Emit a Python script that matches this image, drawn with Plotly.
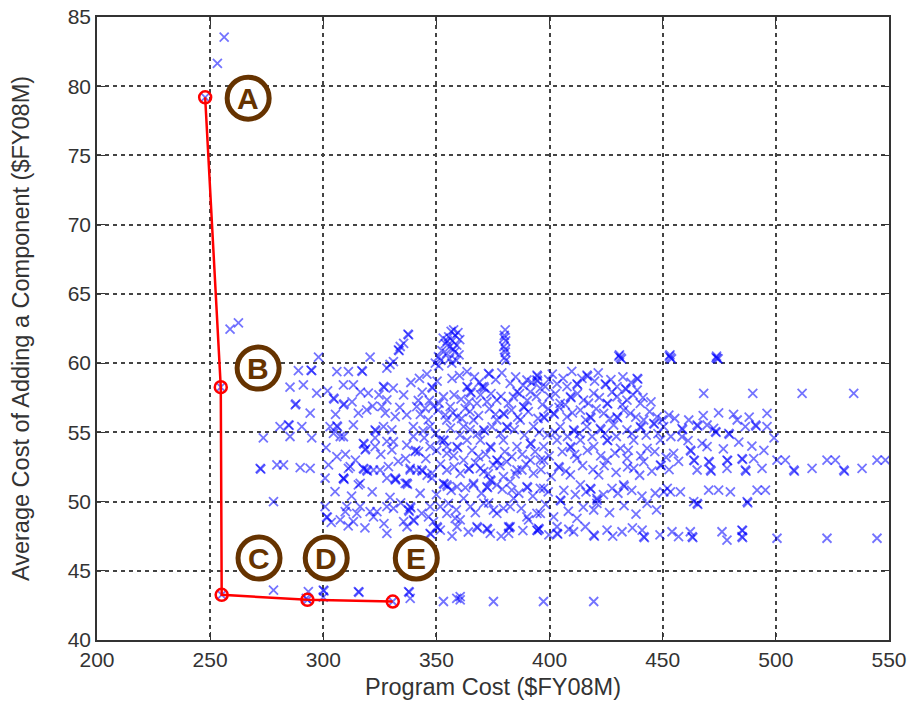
import plotly.graph_objects as go

# ---------------- data ----------------
x_ticks = [200, 250, 300, 350, 400, 450, 500, 550]
y_ticks = [40, 45, 50, 55, 60, 65, 70, 75, 80, 85]

pareto_labels = ["A", "B", "C", "D", "E"]
pareto_cost = [247.8, 254.7, 255.1, 293.0, 330.7]
pareto_avg = [79.2, 58.26, 43.26, 42.9, 42.78]

label_cost = [266.8, 271.2, 271.6, 301.3, 341.1]
label_avg = [79.14, 59.64, 45.92, 45.92, 45.92]

outlier_points = [(253.2, 81.65), (256.2, 83.55), (262.5, 62.9), (258.8, 62.45),
                  (247.8, 79.2), (254.7, 58.26), (255.1, 43.26), (293.0, 42.9),
                  (292.5, 43.0), (330.7, 42.78)]

left_points = [
    (297.9, 60.43), (289.0, 59.46), (294.9, 59.46), (294.6, 59.5), (285.3, 58.26), (291.2, 58.43),
    (297.1, 57.83), (287.6, 56.98), (287.9, 57.05), (294.2, 56.38), (280.9, 55.42), (284.6, 55.54),
    (284.9, 55.5), (290.5, 55.42), (273.5, 54.6), (285.3, 54.7), (294.9, 54.6),
    (304.5, 57.47), (304.8, 57.4), (306.0, 59.39), (311.1, 59.39), (317.0, 59.46), (317.3, 59.4),
    (320.7, 60.43), (308.9, 58.43), (313.3, 58.43), (308.9, 56.98), (309.2, 57.05), (319.9, 57.83),
    (315.5, 56.38), (319.2, 56.62), (303.0, 55.42), (306.0, 55.47), (306.3, 55.4), (313.3, 55.54),
    (307.5, 54.7), (322.9, 55.18), (323.2, 55.1), (318.5, 53.73), (318.8, 53.8),
    (326.6, 58.31), (326.9, 58.25), (328.1, 57.35), (325.9, 56.86), (327.4, 56.38), (331.8, 56.14),
    (335.5, 57.71), (330.3, 55.18), (336.9, 56.26), (341.3, 56.86), (345.0, 56.74), (348.0, 58.26),
    (348.3, 58.2), (348.7, 56.86), (339.8, 55.42), (347.2, 55.42), (326.6, 55.42), (322.9, 54.6),
    (328.1, 54.35), (339.8, 54.7), (340.6, 53.62), (340.9, 53.7), (330.3, 53.73), (353.9, 56.26),
    (351.7, 54.45), (354.6, 53.97),
    (328.1, 59.63), (331.0, 60.11), (333.2, 60.95), (333.5, 60.9), (335.5, 61.43), (337.7, 62.04),
    (337.4, 62.1), (334.0, 61.2), (329.5, 59.9),
    (301.9, 58.0), (305.4, 56.3), (312.7, 57.2), (316.4, 57.9), (321.8, 56.9), (324.6, 57.7),
    (330.9, 58.2), (333.8, 56.8), (338.7, 58.6), (342.0, 57.3),
    (301.2, 53.9), (309.8, 53.4), (314.2, 53.0), (325.4, 53.4), (333.1, 52.9), (336.4, 53.1),
    (344.6, 54.6), (312.5, 50.4), (321.6, 50.7), (329.5, 50.3), (342.8, 50.6), (334.2, 49.9),
    (326.8, 48.4), (318.4, 48.1),
]

top_points = [
    (349.5, 60.0), (350.9, 60.46), (352.4, 60.9), (353.9, 61.4), (355.4, 61.9), (357.6, 62.4),
    (354.5, 60.7), (356.0, 61.2), (357.0, 61.6), (358.3, 62.0), (359.0, 61.3), (360.0, 60.6),
    (358.0, 60.8), (355.8, 60.3), (352.0, 60.2), (357.5, 61.0), (359.5, 62.2), (356.5, 62.3),
    (360.3, 61.7), (353.0, 61.8), (351.0, 59.8), (358.8, 60.2), (354.8, 61.6), (356.8, 60.0),
    (380.4, 62.4), (380.0, 62.0), (380.6, 61.6), (379.8, 61.2), (380.4, 60.8), (380.1, 60.4),
    (380.7, 60.2), (379.9, 61.8), (380.5, 61.0),
    (430.6, 60.5), (431.3, 60.4), (431.8, 60.3), (430.9, 60.6), (452.9, 60.5), (453.4, 60.4),
    (453.9, 60.3), (453.2, 60.6), (473.6, 60.4), (474.0, 60.34), (474.5, 60.3), (473.8, 60.5),
    (468.1, 57.82), (489.8, 57.82), (511.6, 57.82), (534.4, 57.82),
]

right_points = [
    (496.1, 56.37), (474.7, 56.41), (458.5, 55.29), (458.8, 55.2), (461.5, 55.89), (465.2, 55.53),
    (465.5, 55.45), (469.6, 55.53), (472.5, 55.29), (473.3, 55.05), (473.6, 55.0), (479.2, 54.93),
    (479.5, 54.85), (482.9, 55.89), (486.5, 55.41), (491.0, 55.53), (491.3, 55.45), (496.1, 55.41),
    (469.6, 53.96), (462.2, 53.72), (462.5, 53.65), (458.5, 54.68),
    (461.2, 54.4), (467.4, 54.2), (476.8, 53.8), (483.6, 54.3), (489.4, 54.0), (494.7, 53.7),
    (499.2, 54.6), (467.9, 56.2), (481.3, 56.3), (488.2, 56.1),
    (457.0, 52.9), (463.7, 53.0), (464.0, 52.95), (465.2, 52.28), (470.3, 52.9), (470.6, 52.85),
    (471.1, 52.28), (471.4, 52.2), (478.4, 53.0), (478.7, 52.95), (478.4, 52.4), (485.0, 53.1),
    (485.3, 53.05), (486.5, 52.28), (486.8, 52.2), (490.2, 53.1), (493.9, 52.4), (500.5, 53.0),
    (504.2, 53.0), (507.9, 52.28), (508.2, 52.2), (516.0, 52.4), (522.6, 53.0), (526.3, 53.0),
    (530.0, 52.28), (530.3, 52.2), (538.1, 52.4), (544.7, 53.0), (548.4, 53.0),
    (457.8, 50.7), (470.3, 50.83), (474.7, 50.83), (479.9, 50.7), (491.7, 50.83), (495.4, 50.83),
    (465.2, 49.87), (465.5, 49.8), (487.3, 49.99), (487.6, 49.9), (463.7, 49.99),
    (457.0, 47.46), (462.2, 47.82), (463.0, 47.46), (463.3, 47.4), (476.2, 47.82), (478.4, 47.22),
    (485.0, 47.94), (485.3, 47.9), (485.0, 47.46), (485.3, 47.4), (500.5, 47.35), (522.6, 47.35),
    (544.7, 47.35),
]

lower_points = [
    (375.2, 49.39), (379.6, 49.51), (401.8, 48.9), (412.1, 48.79), (419.5, 49.39), (420.9, 49.87),
    (443.1, 49.87), (450.5, 50.7), (453.4, 50.7),
    (360.5, 48.67), (372.3, 48.07), (372.6, 48.0), (381.9, 48.18), (382.2, 48.1), (381.9, 47.7),
    (390.7, 48.67), (395.1, 48.07), (395.4, 48.0), (403.3, 47.7), (403.6, 47.65), (403.3, 48.18),
    (410.6, 47.82), (415.8, 48.18), (419.5, 47.58), (419.8, 47.5), (425.4, 47.94), (432.0, 47.82),
    (440.9, 47.94), (441.6, 47.46), (441.9, 47.4), (454.1, 47.82),
    (356.9, 47.5), (364.1, 47.8), (378.6, 47.5), (388.2, 47.9), (399.7, 47.6), (408.5, 48.0),
    (427.9, 47.5), (436.6, 48.1), (448.8, 47.6),
    (360.5, 42.9), (360.5, 43.13), (375.2, 42.78), (397.3, 42.78), (419.5, 42.78),
    (272.1, 52.4), (272.4, 52.35), (279.5, 52.65), (282.4, 52.65), (289.8, 52.45), (294.2, 52.4),
    (278.0, 50.0), (302.3, 52.65), (300.8, 51.69), (308.9, 51.69), (309.2, 51.6), (311.1, 52.4),
    (315.5, 51.2), (319.2, 52.28), (319.5, 52.2), (325.1, 52.28), (328.1, 51.69), (331.8, 51.69),
    (332.1, 51.6), (336.9, 51.33), (337.2, 51.25), (338.4, 52.28), (343.5, 52.28), (343.8, 52.2),
    (348.0, 51.69), (354.6, 51.2), (354.9, 51.1),
    (300.8, 49.63), (301.5, 48.9), (301.8, 48.85), (309.7, 49.27), (313.3, 48.55), (316.3, 49.63),
    (323.7, 49.27), (322.2, 48.9), (331.0, 49.51), (335.5, 48.55), (338.4, 49.63), (338.7, 49.55),
    (339.8, 48.67), (340.1, 48.6), (343.5, 49.15), (346.5, 48.9), (350.2, 48.18), (350.5, 48.1),
    (351.7, 49.63), (354.6, 49.15), (358.3, 48.79),
    (278.0, 43.6), (293.4, 43.5), (300.0, 43.6), (300.3, 43.55), (300.0, 43.1), (315.5, 43.5),
    (315.8, 43.45), (337.7, 43.5), (338.0, 43.45), (338.4, 43.0), (353.1, 42.78), (359.0, 43.0),
]

core_points = [
    (304.5, 54.93), (308.9, 54.68), (317.7, 54.2), (318.0, 54.15), (322.9, 53.96), (331.0, 54.32),
    (336.9, 54.08), (342.1, 53.6), (347.2, 53.96), (306.0, 53.24), (311.9, 52.52), (317.7, 52.4),
    (318.0, 52.35), (322.2, 52.28), (328.8, 52.52), (331.8, 51.56), (338.4, 52.4), (341.3, 52.28),
    (348.0, 52.04), (308.9, 51.68), (316.3, 51.32), (336.2, 51.32), (305.2, 50.71), (320.7, 49.27),
    (328.1, 49.63), (310.4, 49.63), (307.5, 48.67), (314.8, 49.15), (337.7, 49.39), (338.0, 49.3),
    (347.2, 49.63), (348.7, 48.55), (303.5, 48.5), (311.0, 48.25), (328.1, 47.7), (337.0, 48.18),
    (347.2, 47.7), (347.5, 47.65),
    (353.1, 57.57), (356.1, 56.85), (359.1, 56.12), (365.0, 57.93), (365.3, 57.85), (370.1, 58.29),
    (362.7, 56.73), (367.9, 57.09), (372.3, 57.21), (376.7, 57.33), (379.6, 56.37), (379.9, 56.3),
    (384.0, 57.57), (388.5, 56.85), (388.8, 56.8), (391.5, 57.93), (394.4, 58.78), (394.7, 58.7),
    (398.1, 58.3),
    (354.6, 55.89), (362.0, 55.41), (366.4, 55.89), (370.9, 55.17), (371.2, 55.1), (376.7, 55.89),
    (381.1, 55.41), (381.4, 55.35), (387.0, 55.89), (392.9, 55.41), (397.4, 56.12), (397.7, 56.05),
    (353.1, 54.44), (353.4, 54.4), (359.1, 53.96), (359.4, 53.9), (363.5, 54.44), (369.4, 54.44),
    (373.8, 53.96), (374.1, 53.9), (379.6, 54.44), (385.6, 53.96), (391.5, 54.2), (391.8, 54.15),
    (397.4, 53.96),
    (354.6, 53.48), (362.0, 53.0), (368.6, 53.24), (376.7, 53.0), (377.0, 52.95), (383.3, 53.24),
    (391.5, 53.0), (397.4, 53.0),
    (354.6, 52.28), (360.5, 52.04), (364.2, 52.4), (364.5, 52.35), (370.9, 52.16), (379.6, 51.8),
    (385.6, 52.28), (392.9, 52.04),
    (353.1, 51.32), (353.4, 51.25), (359.1, 51.07), (366.4, 51.32), (372.3, 51.07), (372.6, 51.0),
    (376.7, 51.2), (383.3, 50.83), (390.0, 51.07), (390.3, 51.0), (395.9, 50.95),
    (355.3, 49.87), (365.0, 49.63), (370.9, 49.87), (376.7, 49.15), (382.6, 49.63), (390.0, 48.9),
    (395.9, 49.15),
    (351.7, 47.94), (359.1, 48.18), (367.9, 48.18), (368.2, 48.1), (373.8, 47.7), (382.6, 48.18),
    (394.4, 47.94), (394.7, 47.9),
]

mid_points = [
    (363.5, 59.38), (363.5, 58.3), (363.8, 58.25), (370.9, 58.3), (371.2, 58.2), (373.0, 59.26),
    (373.3, 59.2), (382.6, 58.54), (385.6, 57.93), (390.0, 58.78), (395.9, 58.17), (394.4, 59.13),
    (394.7, 59.05), (403.3, 58.5), (407.7, 58.3), (412.1, 58.5), (412.4, 58.45), (416.5, 59.13),
    (416.8, 59.05), (424.6, 58.5), (424.9, 58.45), (429.8, 58.3), (433.5, 58.17), (433.8, 58.1),
    (438.7, 58.9), (439.0, 58.85), (438.7, 58.05),
    (404.7, 57.09), (409.2, 57.57), (409.5, 57.5), (415.0, 57.33), (419.5, 57.81), (425.4, 57.09),
    (425.7, 57.05), (429.8, 57.57), (434.2, 57.33), (440.1, 57.09),
    (401.8, 56.37), (402.1, 56.3), (407.7, 56.12), (413.6, 56.61), (418.0, 56.12), (418.3, 56.05),
    (423.9, 56.37), (429.8, 56.12), (430.1, 56.05), (435.7, 56.37), (441.6, 55.89), (447.5, 56.12),
    (452.7, 56.25),
    (404.7, 55.41), (410.6, 55.17), (410.9, 55.1), (416.5, 55.41), (422.4, 55.29), (422.7, 55.2),
    (428.3, 55.53), (434.2, 55.17), (440.1, 55.41), (440.4, 55.35), (446.0, 55.65), (446.3, 55.6),
    (450.4, 55.41),
    (403.3, 54.44), (409.2, 53.96), (409.5, 53.9), (413.6, 54.44), (419.5, 53.96), (425.4, 54.44),
    (425.7, 54.4), (431.3, 53.84), (437.2, 54.44), (443.1, 53.84), (449.0, 54.44), (454.8, 53.48),
    (369.4, 52.4), (375.2, 52.64), (373.8, 51.56), (374.1, 51.5), (366.4, 51.2), (382.6, 51.44),
    (387.8, 52.28), (397.4, 50.95), (404.0, 52.52), (404.3, 52.45), (409.2, 51.92), (413.6, 51.2),
    (418.0, 50.95), (418.3, 50.9), (421.7, 51.92), (427.6, 50.95), (432.7, 51.2), (433.0, 51.1),
    (437.2, 52.4), (441.6, 52.88), (449.0, 52.64), (449.3, 52.6), (452.0, 50.95), (381.1, 52.88),
    (395.9, 53.0), (412.1, 53.12), (425.4, 53.0), (434.2, 53.12), (362.0, 50.23), (394.4, 49.15),
    (420.9, 50.23), (384.1, 50.23), (404.7, 50.1), (405.0, 50.05), (421.0, 50.1),
]

dense_points = [
    (342.5, 58.9), (345.8, 59.2), (350.3, 58.7), (356.9, 58.9), (360.2, 59.1), (366.8, 59.0),
    (368.9, 58.6), (376.2, 58.8), (378.9, 59.3), (385.0, 59.0), (388.3, 58.4), (392.1, 58.6),
    (399.6, 58.8), (401.2, 59.2), (406.0, 58.9), (409.8, 59.4), (414.3, 58.9), (419.9, 58.7),
    (421.5, 59.3), (427.1, 58.8), (432.4, 59.0), (436.0, 58.6),
    (343.7, 57.9), (346.9, 57.3), (351.2, 57.1), (357.8, 57.7), (360.9, 57.4), (364.4, 57.2),
    (369.5, 57.7), (374.1, 57.8), (378.5, 57.6), (381.8, 57.1), (386.7, 57.8), (390.1, 57.3),
    (394.2, 57.6), (396.8, 57.0), (399.9, 57.6), (402.6, 57.8), (406.9, 57.0), (412.3, 57.8),
    (417.2, 57.1), (422.0, 57.5), (427.6, 57.9), (432.1, 57.0), (436.9, 57.7), (441.3, 57.5),
    (444.8, 57.2),
    (342.9, 56.3), (346.4, 55.9), (350.7, 56.6), (357.3, 56.4), (361.1, 56.0), (364.8, 56.5),
    (368.6, 56.2), (373.4, 56.7), (376.1, 56.3), (383.2, 56.6), (385.9, 56.1), (390.6, 56.5),
    (394.9, 56.0), (399.4, 56.7), (404.2, 56.8), (410.1, 56.4), (415.9, 55.9), (420.6, 56.7),
    (426.7, 56.0), (432.8, 56.6), (438.1, 56.1), (444.2, 56.5), (449.8, 55.9), (455.3, 56.0),
    (344.1, 55.1), (349.6, 54.9), (356.2, 55.3), (360.4, 54.8), (364.9, 55.2), (368.1, 54.9),
    (374.6, 55.4), (378.3, 54.9), (384.4, 55.2), (388.9, 54.8), (395.4, 55.0), (399.1, 54.8),
    (402.4, 55.0), (407.9, 54.7), (413.2, 54.9), (418.8, 54.7), (424.5, 54.9), (429.5, 54.7),
    (436.4, 54.9), (442.7, 54.8), (447.9, 54.9), (453.6, 54.7),
    (345.3, 53.1), (350.1, 53.7), (357.6, 53.3), (365.7, 53.7), (371.8, 53.4), (380.2, 53.6),
    (387.9, 53.4), (393.6, 53.6), (399.8, 53.3), (405.6, 53.6), (411.1, 53.4), (416.7, 53.7),
    (422.6, 53.3), (428.9, 53.5), (434.8, 53.7), (440.3, 53.3), (446.5, 53.6), (451.5, 53.2),
    (345.9, 51.9), (351.8, 52.7), (357.9, 52.5), (367.3, 52.8), (372.9, 52.0), (378.1, 52.6),
    (384.8, 52.0), (389.6, 52.7), (396.2, 52.3), (400.7, 51.8), (407.2, 52.2), (414.6, 52.6),
    (419.2, 52.3), (424.1, 52.6), (429.4, 52.1), (434.5, 52.5), (439.8, 51.9), (445.2, 52.2),
    (452.8, 52.3),
    (350.0, 50.5), (356.5, 50.8), (362.8, 51.0), (369.9, 50.6), (379.1, 50.9), (386.4, 50.6),
    (392.6, 50.4), (399.4, 50.7), (406.3, 50.8), (411.4, 50.5), (416.1, 50.7), (423.8, 50.5),
    (430.2, 50.6), (436.3, 50.8), (440.8, 50.4), (446.7, 50.6),
    (358.8, 49.4), (367.2, 49.2), (373.1, 49.9), (387.5, 49.5), (398.2, 49.8), (408.3, 49.3),
    (414.9, 49.6), (426.5, 49.2), (432.9, 49.7), (438.2, 49.1), (447.3, 49.4),
]

# ---------------- figure ----------------
all_points = (outlier_points + left_points + top_points + right_points
              + lower_points + core_points + mid_points + dense_points)
sx = [p[0] for p in all_points]
sy = [p[1] for p in all_points]

BROWN = "rgb(102,51,0)"
FONT = "Liberation Sans, Arial, Helvetica, sans-serif"
TXT = "#333333"

fig = go.Figure()
fig.add_trace(go.Scatter(
    x=sx, y=sy, mode="markers",
    marker=dict(symbol="x-thin", size=9, color="rgba(0,0,255,0.55)",
                line=dict(width=1.8, color="rgba(0,0,255,0.55)")),
    showlegend=False, hoverinfo="skip"))
fig.add_trace(go.Scatter(
    x=pareto_cost, y=pareto_avg, mode="lines+markers",
    line=dict(color="red", width=2.5),
    marker=dict(symbol="circle-open", size=12, color="red", line=dict(width=2.5, color="red")),
    showlegend=False, hoverinfo="skip"))

shapes = []
annotations = []
for lab, cx, cy in zip(pareto_labels, label_cost, label_avg):
    shapes.append(dict(type="circle", xref="x", yref="y", xsizemode="pixel", ysizemode="pixel",
                       xanchor=cx, yanchor=cy, x0=-21, x1=21, y0=-21, y1=21,
                       line=dict(color=BROWN, width=5), fillcolor="white", layer="above"))
    annotations.append(dict(x=cx, y=cy, xref="x", yref="y", text=f"<b>{lab}</b>", showarrow=False,
                            font=dict(family=FONT, size=30, color=BROWN),
                            xanchor="center", yanchor="middle"))

axis_common = dict(showline=True, linecolor="#333", linewidth=1.5, mirror="ticks",
                   ticks="inside", ticklen=8, tickwidth=1.3, tickcolor="#333",
                   showgrid=True, gridcolor="#444", gridwidth=1.5, griddash="4px,4px",
                   zeroline=False, ticklabeloverflow="allow",
                   tickfont=dict(family=FONT, size=21, color=TXT))

fig.update_xaxes(range=[200, 550], tickvals=x_ticks, ticktext=[str(v) for v in x_ticks],
                 title=dict(text="Program Cost ($FY08M)", font=dict(family=FONT, size=23.5, color=TXT),
                            standoff=9),
                 **axis_common)
fig.update_yaxes(range=[40, 85], tickvals=y_ticks, ticktext=[str(v) for v in y_ticks],
                 title=dict(text="Average Cost of Adding a Component ($FY08M)",
                            font=dict(family=FONT, size=23.5, color=TXT), standoff=31),
                 **axis_common)

fig.update_layout(width=914, height=709, margin=dict(l=97, r=25, t=17, b=69, autoexpand=False),
                  paper_bgcolor="white", plot_bgcolor="white",
                  shapes=shapes, annotations=annotations)

# remove the default 8px page margin so the figure fills the window exactly
fig.write_html("out.html", config={"displayModeBar": False},
               post_script="document.body.style.margin='0';")
